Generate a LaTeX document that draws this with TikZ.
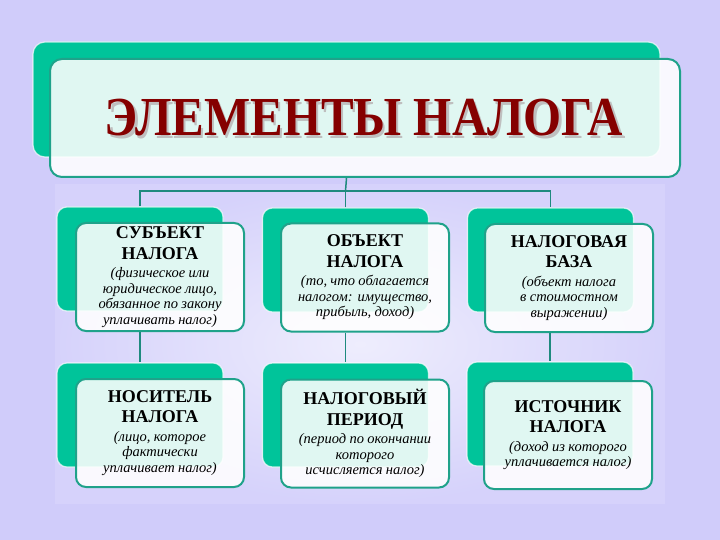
\documentclass[tikz,border=0pt]{standalone}
\usepackage{fontspec}
\usepackage{graphicx}
\setmainfont{Liberation Serif}[BoldFont={Liberation Serif Bold}, ItalicFont={Liberation Serif Italic}, BoldItalicFont={Liberation Serif Bold Italic}]
\newfontfamily\tnrb{Liberation Serif Bold}
\newfontfamily\tnri{Liberation Serif Italic}
\definecolor{bg}{HTML}{D0CCFA}
\definecolor{bglight}{HTML}{EEEDFD}
\definecolor{green}{HTML}{00C49A}
\definecolor{teal}{HTML}{1FA28A}
\definecolor{conn}{HTML}{1E8A7E}
\definecolor{titlered}{HTML}{850000}
\newcommand{\bxtext}[2]{\centering{\tnrb\fontsize{18}{20.5}\selectfont #1\par}\vspace{3pt}{\tnri\fontsize{14.5}{15.5}\selectfont #2\par}}
\newcommand{\shadowed}[1]{\makebox[0pt][l]{\hspace{2.5pt}\raisebox{-2.5pt}{\textcolor{gray!50}{#1}}}\textcolor{titlered}{#1}}
\tikzset{
  backbox/.style={rectangle, rounded corners=10pt, fill=green, draw=white, draw opacity=0.7, line width=1.2pt, minimum width=166pt, minimum height=104pt, inner sep=0pt},
  frontbox/.style={rectangle, rounded corners=10pt, fill=white, fill opacity=0.88, draw=teal, draw opacity=1, line width=2pt, minimum width=168pt, minimum height=108pt, inner sep=0pt},
  boxtext/.style={text width=168pt, inner sep=0pt, align=center},
  connline/.style={draw=conn, line width=1.5pt}
}
\begin{document}
\begin{tikzpicture}[x=1pt,y=-1pt]
\useasboundingbox (0,0) rectangle (720,540);
\fill[bg] (0,0) rectangle (720,540);
\shade[inner color=bglight, outer color=bg!88!white] (55,185) rectangle (665,503);

% title
\node[backbox, rounded corners=12pt, minimum width=627pt, minimum height=115pt] (tback) at (346.5,99.5) {};
\node[frontbox, rounded corners=12pt, minimum width=630pt, minimum height=118pt] (title) at (365,118) {};
\node[font=\tnrb\fontsize{55}{58}\selectfont, inner sep=0pt] (ttext) at (364,119) {\scalebox{0.89}[1]{\shadowed{ЭЛЕМЕНТЫ НАЛОГА}}};

% back boxes
\node[backbox] (g1) at (140,259) {};
\node[backbox] (g2) at (345.5,260) {};
\node[backbox] (g3) at (550.5,260) {};
\node[backbox] (g4) at (140,415) {};
\node[backbox] (g5) at (345.5,415) {};
\node[backbox] (g6) at (550,414) {};

% front boxes
\node[frontbox] (f1) at (160,277) {};
\node[frontbox] (f2) at (365,277.5) {};
\node[frontbox] (f3) at (569,278) {};
\node[frontbox] (f4) at (160,433) {};
\node[frontbox] (f5) at (365,433.5) {};
\node[frontbox] (f6) at (568,435) {};

% texts
\node[boxtext] (t1) at (f1.center) {\bxtext{СУБЪЕКТ\\НАЛОГА}{(физическое или\\юридическое лицо,\\обязанное по закону\\уплачивать налог)}};
\node[boxtext] (t2) at (f2.center) {\bxtext{ОБЪЕКТ\\НАЛОГА}{(то, что облагается\\налогом: имущество,\\прибыль, доход)}};
\node[boxtext] (t3) at (f3.center) {\bxtext{НАЛОГОВАЯ\\БАЗА}{(объект налога\\в стоимостном\\выражении)}};
\node[boxtext] (t4) at (f4.center) {\bxtext{НОСИТЕЛЬ\\НАЛОГА}{(лицо, которое\\фактически\\уплачивает налог)}};
\node[boxtext] (t5) at (f5.center) {\bxtext{НАЛОГОВЫЙ\\ПЕРИОД}{(период по окончании\\которого\\исчисляется налог)}};
\node[boxtext] (t6) at (f6.center) {\bxtext{ИСТОЧНИК\\НАЛОГА}{(доход из которого\\уплачивается налог)}};

% connectors
\coordinate (hub) at (345.5,191);
\draw[connline] (tback.center |- title.south) -- (hub);
\draw[connline] (g1.north) -- (g1.north |- hub) -- (g3.north |- hub) -- (g3.north);
\draw[connline] (g2.north) -- (g2.north |- hub);
\draw[connline] (f1.south -| g4.north) -- (g4.north);
\draw[connline] (f2.south -| g5.north) -- (g5.north);
\draw[connline] (f3.south -| g6.north) -- (g6.north);
\end{tikzpicture}
\end{document}
